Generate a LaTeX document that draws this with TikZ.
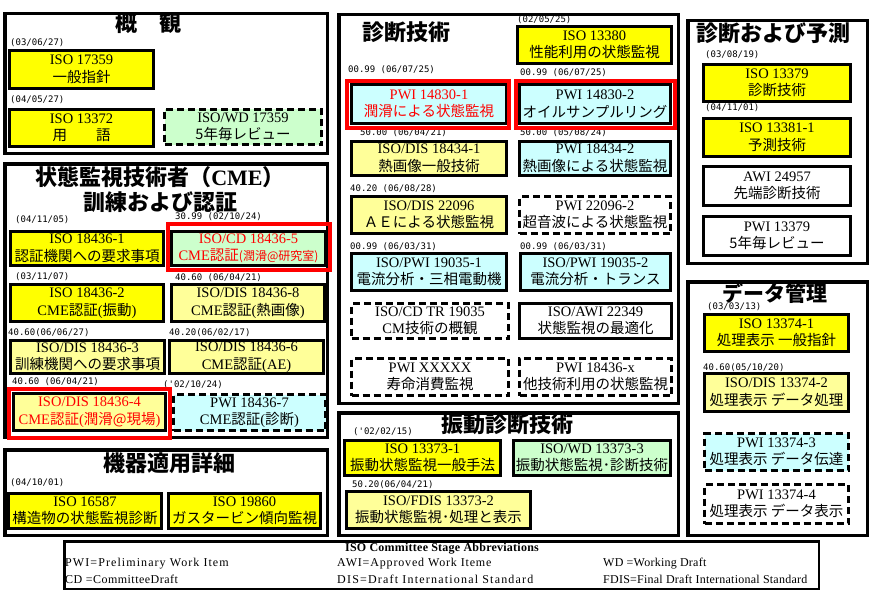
\documentclass[tikz,border=0pt]{standalone}
\usepackage{fontspec}
\setmainfont{Liberation Serif}
\newfontfamily\jp{Noto Sans CJK JP}
\newfontfamily\dtf{DejaVu Sans Mono}
\newfontfamily\lgf{Liberation Serif}
\newcommand\J[1]{{\jp #1}}
\newcommand\bxf{\fontsize{14.5}{17.5}\selectfont}
\definecolor{cY}{HTML}{FFFF00}
\definecolor{cLY}{HTML}{FFFF99}
\definecolor{cG}{HTML}{CCFFCC}
\definecolor{cC}{HTML}{CCFFFF}
\definecolor{cR}{HTML}{FF0000}
% name, x1, y1, x2, y2, options, text
\newcommand\bx[7]{\node[bx,#6,minimum width={(#4-#2-3)*1pt},minimum height={(#5-#3-3)*1pt}] (#1) at ({(#2+#4)/2},{(#3+#5)/2}) {#7};}
\newcommand\pnl[4]{\draw[pnlst] ({#1+1.75},{#2+1.75}) rectangle ({#3-1.75},{#4-1.75});}
\newcommand\rfr[4]{\draw[rfst] ({#1+2},{#2+2}) rectangle ({#3-2},{#4-2});}
\begin{document}
\begin{tikzpicture}[x=1pt,y=-1pt,
  bx/.style={draw,line width=3pt,inner sep=0pt,align=center,font=\bxf,text=black},
  dsh/.style={dash pattern=on 7pt off 4pt},
  Y/.style={fill=cY}, LY/.style={fill=cLY}, G/.style={fill=cG}, C/.style={fill=cC}, W/.style={fill=white},
  redt/.style={text=cR},
  pnlst/.style={draw,line width=3.5pt},
  rfst/.style={draw=cR,line width=4pt},
  ttl/.style={inner sep=0pt,align=center,font=\jp\bfseries\fontsize{22}{25}\selectfont},
  dt/.style={anchor=west,inner sep=0pt,font=\dtf\fontsize{9}{10}\selectfont},
  lg/.style={anchor=west,inner sep=0pt,font=\lgf\fontsize{12}{13}\selectfont}]
\useasboundingbox[fill=white] (0,0) rectangle (874,591);
% panels
\pnl{3}{12}{329}{155}
\pnl{3}{162}{329}{439}
\pnl{3}{448}{329}{537}
\pnl{337}{13}{680}{405}
\pnl{337}{411}{680}{537}
\pnl{686}{19}{869}{265}
\pnl{686}{280}{869}{537}
\draw[line width=2.5pt] (64.25,541.25) rectangle (818.75,588.75);
% titles
\node[ttl] (t1) at (148,23) {概　観};
\node[ttl] (t2) at (160,190) {状態監視技術者（{\rmfamily\bfseries CME}）\\訓練および認証};
\node[ttl] (t3) at (169,463) {機器適用詳細};
\node[ttl] (t4) at (406,32) {診断技術};
\node[ttl] (t5) at (507,424) {振動診断技術};
\node[ttl] (t6) at (773,33) {診断および予測};
\node[ttl,font=\jp\bfseries\fontsize{21}{24}\selectfont] (t7) at (775,293) {データ管理};
% panel 1
\node[dt] (d1) at (10,43) {(03/06/27)};
\bx{b1}{8}{49}{155}{90}{Y}{ISO 17359\\\J{一般指針}}
\node[dt] (d2) at (10,100) {(04/05/27)};
\bx{b2}{8}{108}{155}{148}{Y}{ISO 13372\\\J{用　　語}}
\bx{b3}{163}{108}{323}{146}{G,dsh}{ISO/WD 17359\\\J{5年毎レビュー}}
% panel 2
\node[dt] (d3) at (15,220) {(04/11/05)};
\node[dt] (d4) at (175,217) {30.99 (02/10/24)};
\bx{c1}{9}{230}{165}{267}{Y}{ISO 18436-1\\\J{認証機関への要求事項}}
\bx{c5}{170}{230}{327}{267}{G,redt}{ISO/CD 18436-5\\CME\J{認証}{\jp\fontsize{12}{14}\selectfont (潤滑@研究室)}}
\node[dt] (d5) at (15,277) {(03/11/07)};
\node[dt] (d6) at (175,278) {40.60 (06/04/21)};
\bx{c2}{9}{283}{165}{323}{Y}{ISO 18436-2\\CME\J{認証}(\J{振動})}
\bx{c8}{170}{283}{326}{323}{LY}{ISO/DIS 18436-8\\CME\J{認証}(\J{熱画像})}
\node[dt] (d7) at (8,333) {40.60(06/06/27)};
\node[dt] (d8) at (169,333) {40.20(06/02/17)};
\bx{c3}{9}{339}{166}{375}{LY}{ISO/DIS 18436-3\\\J{訓練機関への要求事項}}
\bx{c6}{168}{339}{325}{375}{LY}{ISO/DIS 18436-6\\CME\J{認証}(AE)}
\node[dt] (d9) at (12,382) {40.60 (06/04/21)};
\node[dt] (d10) at (163,385) {('02/10/24)};
\bx{c4}{12}{392}{167}{432}{LY,redt}{ISO/DIS 18436-4\\CME\J{認証}(\J{潤滑@現場})}
\bx{c7}{172}{393}{327}{432}{C,dsh}{PWI 18436-7\\CME\J{認証}(\J{診断})}
% panel 3
\node[dt] (d11) at (10,483) {(04/10/01)};
\bx{e1}{7}{492}{163}{530}{Y}{ISO 16587\\\J{構造物の状態監視診断}}
\bx{e2}{167}{492}{322}{530}{Y}{ISO 19860\\\J{ガスタービン傾向監視}}
% middle panel
\node[dt] (d12) at (517,19.5) {(02/05/25)};
\bx{m0}{516}{25}{673}{65}{Y}{ISO 13380\\\J{性能利用の状態監視}}
\node[dt] (d13) at (348,70) {00.99 (06/07/25)};
\node[dt] (d14) at (520,73) {00.99 (06/07/25)};
\bx{m1}{350}{83}{508}{125}{C,redt}{PWI 14830-1\\\J{潤滑による状態監視}}
\bx{m2}{518}{83}{672}{125}{C}{PWI 14830-2\\\J{オイルサンプルリング}}
\node[dt] (d15) at (360,133) {50.00 (06/04/21)};
\node[dt] (d16) at (520,133) {50.00 (05/08/24)};
\bx{m3}{350}{140}{508}{177}{LY}{ISO/DIS 18434-1\\\J{熱画像一般技術}}
\bx{m4}{518}{140}{672}{177}{C}{PWI 18434-2\\\J{熱画像による状態監視}}
\node[dt] (d17) at (350,189) {40.20 (06/08/28)};
\bx{m5}{350}{195}{508}{235}{LY}{ISO/DIS 22096\\\J{ＡＥによる状態監視}}
\bx{m6}{518}{195}{672}{235}{W,dsh}{PWI 22096-2\\\J{超音波による状態監視}}
\node[dt] (d18) at (350,247) {00.99 (06/03/31)};
\node[dt] (d19) at (520,247) {00.99 (06/03/31)};
\bx{m7}{350}{252}{508}{292}{C}{ISO/PWI 19035-1\\\J{電流分析・三相電動機}}
\bx{m8}{519}{252}{672}{292}{C}{ISO/PWI 19035-2\\\J{電流分析・トランス}}
\bx{m9}{350}{302}{510}{340}{W,dsh}{ISO/CD TR 19035\\CM\J{技術の概観}}
\bx{m10}{518}{302}{673}{340}{W}{ISO/AWI 22349\\\J{状態監視の最適化}}
\bx{m11}{350}{357}{510}{397}{W,dsh}{PWI XXXXX\\\J{寿命消費監視}}
\bx{m12}{518}{357}{673}{397}{W,dsh}{PWI 18436-x\\\J{他技術利用の状態監視}}
% vibration panel
\node[dt] (d20) at (353,432) {('02/02/15)};
\bx{v1}{343}{439}{502}{477}{Y}{ISO 13373-1\\\J{振動状態監視一般手法}}
\bx{v3}{512}{439}{672}{477}{G}{ISO/WD 13373-3\\\J{振動状態監視･診断技術}}
\node[dt] (d21) at (352,485) {50.20(06/04/21)};
\bx{v2}{345}{490}{532}{530}{LY}{ISO/FDIS 13373-2\\\J{振動状態監視･処理と表示}}
% right top panel
\node[dt] (d22) at (705,55) {(03/08/19)};
\bx{r1}{702}{63}{852}{103}{Y}{ISO 13379\\\J{診断技術}}
\node[dt] (d23) at (705,108) {(04/11/01)};
\bx{r2}{702}{117}{852}{158}{Y}{ISO 13381-1\\\J{予測技術}}
\bx{r3}{702}{165}{852}{207}{W}{AWI 24957\\\J{先端診断技術}}
\bx{r4}{702}{215}{852}{257}{W}{PWI 13379\\\J{5年毎レビュー}}
% data panel
\node[dt] (d24) at (707,307) {(03/03/13)};
\bx{s1}{703}{313}{850}{353}{Y}{ISO 13374-1\\\J{処理表示 一般指針}}
\node[dt] (d25) at (703,368) {40.60(05/10/20)};
\bx{s2}{703}{372}{850}{413}{LY}{ISO/DIS 13374-2\\\J{処理表示 データ処理}}
\bx{s3}{703}{432}{850}{472}{C,dsh}{PWI 13374-3\\\J{処理表示 データ伝達}}
\bx{s4}{703}{483}{850}{525}{W,dsh}{PWI 13374-4\\\J{処理表示 データ表示}}
% red frames
\rfr{166}{222}{332}{272}
\rfr{7}{387}{172}{440}
\rfr{345}{79}{511}{130}
\rfr{514}{79}{677}{130}
% legend
\node[inner sep=0pt,font=\lgf\bfseries\fontsize{12}{13}\selectfont\addfontfeature{LetterSpace=2}] (lt) at (442,549) {ISO Committee Stage Abbreviations};
\node[lg,font=\lgf\fontsize{12}{13}\selectfont\addfontfeature{LetterSpace=9}] (l1) at (65,564) {PWI=Preliminary Work Item};
\node[lg,font=\lgf\fontsize{12}{13}\selectfont\addfontfeature{LetterSpace=4}] (l2) at (65,579) {CD =CommitteeDraft};
\node[lg,font=\lgf\fontsize{12}{13}\selectfont\addfontfeature{LetterSpace=7}] (l3) at (337,564) {AWI=Approved Work Iteme};
\node[lg,font=\lgf\fontsize{12}{13}\selectfont\addfontfeature{LetterSpace=10}] (l4) at (337,579) {DIS=Draft International Standard};
\node[lg,font=\lgf\fontsize{12}{13}\selectfont\addfontfeature{LetterSpace=2}] (l5) at (603,564) {WD =Working Draft};
\node[lg,font=\lgf\fontsize{12}{13}\selectfont\addfontfeature{LetterSpace=2}] (l6) at (603,579) {FDIS=Final Draft International Standard};
\end{tikzpicture}
\end{document}
